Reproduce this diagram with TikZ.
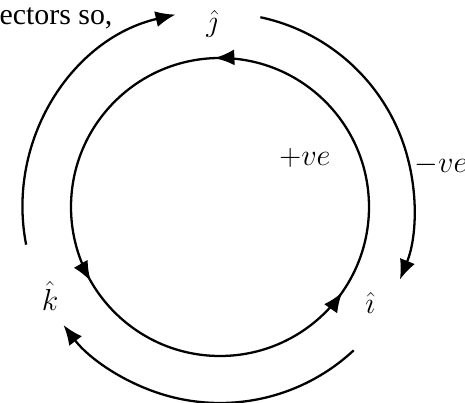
\documentclass[tikz,border=0pt]{standalone}
\usepackage{amsmath,amssymb}
\usepackage{fontspec}
\setmainfont{Liberation Serif}
\usepackage{tikz}
\usetikzlibrary{arrows.meta,decorations.markings}

\begin{document}
\begin{tikzpicture}[
    loop/.style={line width=1.3pt},
    lbl/.style={font=\fontsize{17}{20}\selectfont, inner sep=1pt},
    midarrows/.style={postaction={decorate}, decoration={markings,
        mark=at position 0.256 with {\arrow{>}},
        mark=at position 0.583 with {\arrow{>}},
        mark=at position 0.903 with {\arrow{>}}}},
    >={Latex[length=4mm,width=3.2mm]}
  ]
    \useasboundingbox (0,0) rectangle (9.3,8.06);
    \coordinate (c) at (4.4,3.92);

    % unit vectors
    \node[lbl] (jhat) at (4.24,7.58) {$\hat{\jmath}$};
    \node[lbl] (khat) at (1.0,2.14) {$\hat{k}$};
    \node[lbl] (ihat) at (7.4,2.0) {$\hat{\imath}$};
    \node[lbl] (pos) at (6.1,4.9) {$+ve$};
    \node[lbl] (neg) at (8.82,4.76) {$-ve$};
    \node[lbl, anchor=west] (txt) at (-0.05,7.7) {ectors so,};

    % inner loop
    \draw[loop, midarrows] (c) ++(0:2.98) arc (0:360:2.98);

    % outer arcs
    \draw[loop, ->] (c) ++(191:3.95) arc (191:103:3.95);
    \draw[loop, ->] (c) ++(78:3.88) arc (78:-22:3.88);
    \draw[loop, ->] (c) ++(-47:3.92) arc (-47:-143:3.92);
\end{tikzpicture}
\end{document}
